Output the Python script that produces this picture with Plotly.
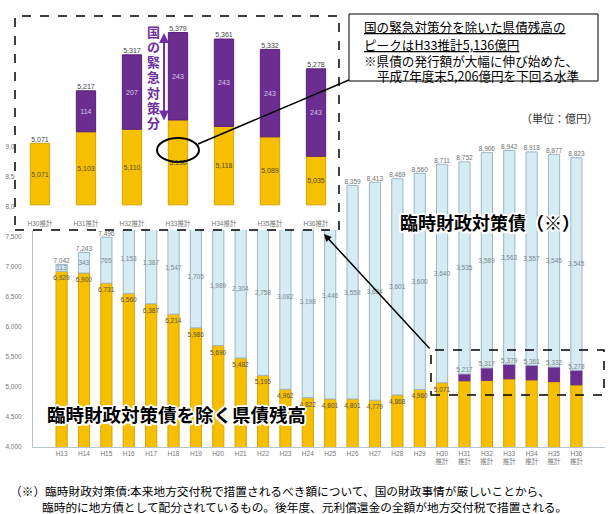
import plotly.graph_objects as go

W, H = 609, 514
def X(px): return px / W
def Y(py): return 1 - py / H

# ---------------- data ----------------
years = ["H13", "H14", "H15", "H16", "H17", "H18", "H19", "H20", "H21", "H22", "H23", "H24",
         "H25", "H26", "H27", "H28", "H29", "H30", "H31", "H32", "H33", "H34", "H35", "H36"]
is_estimate = [False] * 17 + [True] * 7
# 臨時財政対策債を除く県債残高 (億円)
ex_temp = [6929, 6900, 6731, 6560, 6387, 6214, 5986, 5690, 5482, 5195, 4962, 4822,
           4801, 4801, 4779, 4868, 4960, 5071, 5103, 5110, 5136, 5118, 5089, 5035]
# 国の緊急対策分 (億円)
emergency = [None] * 18 + [114, 207, 243, 243, 243, 243]
# 臨時財政対策債 (億円)
temp_bonds = [113, 343, 765, 1153, 1387, 1547, 1705, 1989, 2304, 2758, 3082, 3198,
              3446, 3558, 3634, 3601, 3600, 3640, 3535, 3589, 3563, 3557, 3545, 3545]

cats = [y + ("推計" if e else "") for y, e in zip(years, is_estimate)]
tick_text = [y + ("<br>推計" if e else "") for y, e in zip(years, is_estimate)]

sub_total = [a + (b or 0) for a, b in zip(ex_temp, emergency)]
grand_total = [s + t for s, t in zip(sub_total, temp_bonds)]

# inset (H30推計〜H36推計)
inset_cats = cats[-7:]
inset_yellow = ex_temp[-7:]
inset_purple = emergency[-7:]
inset_total = sub_total[-7:]
INSET_BASE = 4900

# ---------------- style ----------------
YEL = "#F6BF00"
YEL_LINE = "#D8A400"
PUR = "#6B2D8F"
PUR_TXT = "#7030A0"
LB = "#D5ECF3"
LB_LINE = "#9FB6C4"
NUMF = "Liberation Sans, Noto Sans CJK JP, sans-serif"
JPF = "Noto Sans CJK JP, sans-serif"

fig = go.Figure()

# ---- main chart ----
fig.add_bar(x=cats, y=ex_temp, width=0.5, xaxis="x", yaxis="y",
            marker=dict(color=YEL, line=dict(color=YEL_LINE, width=1)),
            text=[f"{v:,}" if e is None else "" for v, e in zip(ex_temp, emergency)],
            textposition="inside", insidetextanchor="end", constraintext="none", textangle=0,
            insidetextfont=dict(size=6.5, color="#5a5040", family=NUMF), hoverinfo="skip")
fig.add_bar(x=cats, y=emergency, base=ex_temp, width=0.5, xaxis="x", yaxis="y",
            marker=dict(color=PUR, line=dict(color=PUR, width=1)), hoverinfo="skip")
fig.add_bar(x=cats, y=temp_bonds, base=sub_total, width=0.5, xaxis="x", yaxis="y",
            marker=dict(color=LB, line=dict(color=LB_LINE, width=1)),
            text=[f"{v:,}" for v in temp_bonds],
            textposition="inside", insidetextanchor="middle", constraintext="none", textangle=0,
            insidetextfont=dict(size=6.5, color="#7a8890", family=NUMF), hoverinfo="skip")
fig.add_scatter(x=cats, y=grand_total, mode="text", xaxis="x", yaxis="y",
                text=[f"{v:,}" for v in grand_total], textposition="top center",
                textfont=dict(size=6.5, color="#707070", family=NUMF), hoverinfo="skip")
fig.add_scatter(x=[c for c, e in zip(cats, emergency) if e is not None],
                y=[s for s, e in zip(sub_total, emergency) if e is not None],
                mode="text", xaxis="x", yaxis="y",
                text=[f"{s:,}" for s, e in zip(sub_total, emergency) if e is not None],
                textposition="top center",
                textfont=dict(size=6.5, color="#808080", family=NUMF), hoverinfo="skip")

# ---- inset chart ----
fig.add_bar(x=inset_cats, y=[v - INSET_BASE for v in inset_yellow], base=INSET_BASE, width=0.42,
            xaxis="x2", yaxis="y2",
            marker=dict(color=YEL, line=dict(color=YEL_LINE, width=1)),
            text=[f"{v:,}" for v in inset_yellow],
            textposition="inside", insidetextanchor="middle", constraintext="none", textangle=0,
            insidetextfont=dict(size=7, color="#5a4a20", family=NUMF), hoverinfo="skip")
fig.add_bar(x=inset_cats, y=inset_purple, base=inset_yellow, width=0.42,
            xaxis="x2", yaxis="y2",
            marker=dict(color=PUR, line=dict(color="#5a2078", width=1)),
            text=["" if v is None else f"{v:,}" for v in inset_purple],
            textposition="inside", insidetextanchor="middle", constraintext="none", textangle=0,
            insidetextfont=dict(size=7, color="#d8c8e8", family=NUMF), hoverinfo="skip")
fig.add_scatter(x=inset_cats, y=inset_total, mode="text", xaxis="x2", yaxis="y2",
                text=[f"{v:,}" for v in inset_total], textposition="top center",
                textfont=dict(size=7, color="#444444", family=NUMF), hoverinfo="skip")

# ---------------- layout ----------------
fig.update_layout(
    width=W, height=H, template="none",
    margin=dict(l=0, r=0, t=0, b=0),
    paper_bgcolor="white", plot_bgcolor="white",
    barmode="overlay", showlegend=False,
    xaxis=dict(domain=[X(33), X(605)], anchor="y", type="category",
               tickvals=cats, ticktext=tick_text, showgrid=False, ticks="",
               showline=True, linecolor="#b8c4cc", linewidth=1,
               tickfont=dict(size=6.5, color="#777777", family=NUMF), automargin=False),
    yaxis=dict(domain=[Y(447), Y(123)], anchor="x", range=[4000, 9400], dtick=500,
               tickformat=",", showgrid=False, ticks="", showline=True,
               linecolor="#c0c0c0", linewidth=1, ticklabelstandoff=9,
               tickfont=dict(size=6.5, color="#777777", family=NUMF), automargin=False),
    xaxis2=dict(domain=[X(15), X(339)], anchor="y2", type="category",
                range=[-0.543, 6.5], showgrid=False, ticks="", showline=False,
                ticklabelposition="inside",
                tickfont=dict(size=6.5, color="#777777", family=NUMF), automargin=False),
    yaxis2=dict(domain=[Y(230), Y(16)], anchor="x2", range=[4830, 5425],
                visible=False, showgrid=False, automargin=False),
)

shapes = [
    # white background of the inset (drawn in inset subplot, below its bars)
    dict(type="rect", xref="x2", yref="y2", x0=-1, x1=7, y0=4000, y1=6000,
         fillcolor="white", line=dict(width=0), layer="below"),
    # inset dashed frame
    dict(type="rect", xref="paper", yref="paper", x0=X(15), x1=X(339), y0=Y(230), y1=Y(16),
         line=dict(color="black", width=1.5, dash="dash"), layer="above"),
    # small dashed frame in main chart
    dict(type="rect", xref="paper", yref="paper", x0=X(431), x1=X(604), y0=Y(395), y1=Y(350),
         line=dict(color="black", width=1.5, dash="dash"), layer="above"),
    # callout box
    dict(type="rect", xref="paper", yref="paper", x0=X(349), x1=X(598), y0=Y(81), y1=Y(14),
         fillcolor="white", line=dict(color="black", width=1), layer="above"),
    # ellipse around 5,136
    dict(type="circle", xref="paper", yref="paper", x0=X(157), x1=X(199), y0=Y(162), y1=Y(138),
         line=dict(color="black", width=2), layer="above"),
    # connector line
    dict(type="line", xref="paper", yref="paper", x0=X(198), y0=Y(144), x1=X(349), y1=Y(80),
         line=dict(color="black", width=1.5), layer="above"),
]
fig.update_layout(shapes=shapes)

outline = ("white 2px 0px 0px, white -2px 0px 0px, white 0px 2px 0px, white 0px -2px 0px, "
           "white 1.5px 1.5px 0px, white -1.5px 1.5px 0px, white 1.5px -1.5px 0px, white -1.5px -1.5px 0px")

ann = []
# vertical purple label
for i, ch in enumerate("国の緊急対策分"):
    ann.append(dict(xref="paper", yref="paper", x=X(153), y=Y(31 + i * 15.3), text=f"<b>{ch}</b>",
                    showarrow=False, font=dict(size=13, color=PUR_TXT, family=JPF),
                    xanchor="center", yanchor="middle"))
# double arrow (tail offset in pixels)
ann.append(dict(xref="paper", yref="paper", x=X(164), y=Y(33), axref="pixel", ayref="pixel",
                ax=0, ay=89, text="", showarrow=True, arrowhead=2, arrowside="end+start",
                arrowsize=1, arrowwidth=2, arrowcolor=PUR_TXT))
# arrow from small box to inset
ann.append(dict(xref="paper", yref="paper", x=X(324), y=Y(234), axref="pixel", ayref="pixel",
                ax=107, ay=116, text="", showarrow=True, arrowhead=2,
                arrowsize=1, arrowwidth=1.5, arrowcolor="black"))
# callout text
callout = [
    ("<u>国の緊急対策分を除いた県債残高の</u>", 362, 26),
    ("<u>ピークはH33推計5,136億円</u>", 362, 44),
    ("※県債の発行額が大幅に伸び始めた、", 362, 60),
    ("平成7年度末5,206億円を下回る水準", 375, 75),
]
for t, x, y in callout:
    ann.append(dict(xref="paper", yref="paper", x=X(x), y=Y(y), text=t, showarrow=False,
                    xanchor="left", yanchor="middle", font=dict(size=12.6, color="black", family=JPF)))
# unit
ann.append(dict(xref="paper", yref="paper", x=X(600), y=Y(118), text="（単位：億円）", showarrow=False,
                xanchor="right", yanchor="middle", font=dict(size=11, color="#333333", family=JPF)))
# big labels
ann.append(dict(xref="paper", yref="paper", x=X(398), y=Y(222), text="<b>臨時財政対策債（※）</b>",
                showarrow=False, xanchor="left", yanchor="middle",
                font=dict(size=18, color="black", family=JPF, shadow=outline)))
ann.append(dict(xref="paper", yref="paper", x=X(45), y=Y(414), text="<b>臨時財政対策債を除く県債残高</b>",
                showarrow=False, xanchor="left", yanchor="middle",
                font=dict(size=18.5, color="black", family=JPF, shadow=outline)))
# footnote
ann.append(dict(xref="paper", yref="paper", x=X(8), y=Y(490),
                text="（※）臨時財政対策債:本来地方交付税で措置されるべき額について、国の財政事情が厳しいことから、",
                showarrow=False, xanchor="left", yanchor="middle",
                font=dict(size=11.7, color="black", family=JPF)))
ann.append(dict(xref="paper", yref="paper", x=X(40), y=Y(506),
                text="臨時的に地方債として配分されているもの。後年度、元利償還金の全額が地方交付税で措置される。",
                showarrow=False, xanchor="left", yanchor="middle",
                font=dict(size=11.7, color="black", family=JPF)))
fig.update_layout(annotations=ann)

fig.write_html("out.html", config={"displayModeBar": False},
               post_script="document.body.style.margin='0';document.body.style.padding='0';")
